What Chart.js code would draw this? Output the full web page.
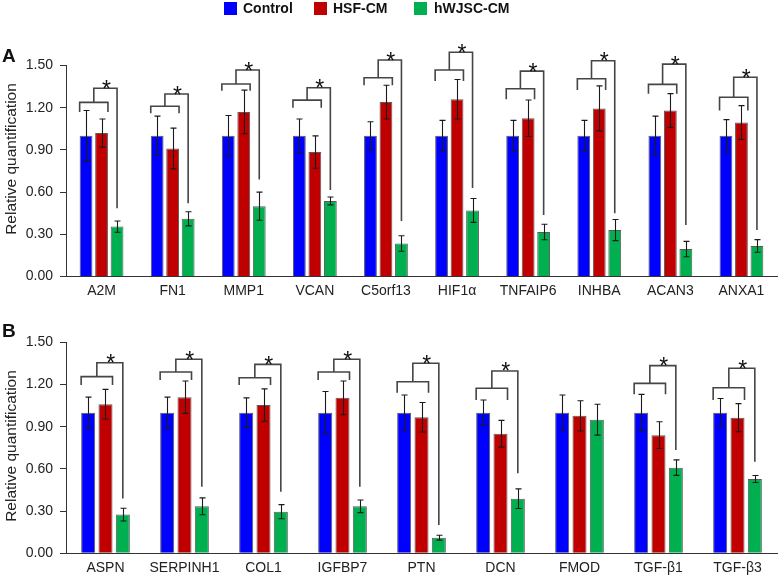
<!DOCTYPE html>
<html>
<head>
<meta charset="utf-8">
<script src="https://cdn.jsdelivr.net/npm/chart.js@4"></script>
<style>
  html, body { margin:0; padding:0; background:#fff; }
  body { width:778px; height:576px; position:relative; overflow:hidden; font-family:"Liberation Sans", Arial, sans-serif; }
  #cA { position:absolute; left:0; top:0; }
  #cB { position:absolute; left:0; top:305px; }
  .leg-sq { position:absolute; width:13px; height:13px; top:1.5px; }
  .leg-tx { position:absolute; top:1.4px; font-weight:bold; font-size:14px; line-height:14px; color:#111; white-space:nowrap; }
  .ytitle { position:absolute; width:180px; height:20px; line-height:20px; text-align:center; font-size:15.5px; color:#222; transform:rotate(-90deg); white-space:nowrap; }
  .panel { position:absolute; left:2px; font-weight:bold; font-size:19px; line-height:19px; color:#111; }
</style>
</head>
<body>
<canvas id="cA" width="778" height="305"></canvas>
<canvas id="cB" width="778" height="271"></canvas>

<div class="leg-sq" style="left:224px;background:#0000ff"></div>
<div class="leg-tx" style="left:243px">Control</div>
<div class="leg-sq" style="left:314px;background:#c00000"></div>
<div class="leg-tx" style="left:333px">HSF-CM</div>
<div class="leg-sq" style="left:414px;background:#00b050"></div>
<div class="leg-tx" style="left:434px">hWJSC-CM</div>

<div class="panel" style="top:45.5px">A</div>
<div class="panel" style="top:320.5px">B</div>
<div class="ytitle" style="left:-79.5px;top:148.5px">Relative quantification</div>
<div class="ytitle" style="left:-79.5px;top:435.5px">Relative quantification</div>

<script>
// ---------- Panel A data ----------
const catsA = ['A2M','FN1','MMP1','VCAN','C5orf13','HIF1α','TNFAIP6','INHBA','ACAN3','ANXA1'];
const ctrlA = [1,1,1,1,1,1,1,1,1,1];
const ctrlErrA = [0.18,0.14,0.145,0.12,0.10,0.11,0.11,0.11,0.14,0.115];
const hsfA = [1.02,0.91,1.17,0.885,1.24,1.26,1.125,1.195,1.18,1.095];
const hsfErrA = [0.10,0.145,0.155,0.115,0.12,0.14,0.13,0.16,0.12,0.12];
const wjA = [0.355,0.41,0.50,0.537,0.235,0.47,0.316,0.33,0.195,0.217];
const wjErrA = [0.04,0.05,0.10,0.028,0.055,0.085,0.055,0.075,0.055,0.045];
// significance brackets (data units)
const lowA  = [1.238,1.21,1.368,1.254,1.413,1.468,1.335,1.406,1.366,1.274];
const legA  = [1.17,1.16,1.32,1.20,1.36,1.39,1.26,1.326,1.30,1.18];
const highA = [1.338,1.297,1.468,1.342,1.539,1.594,1.46,1.534,1.51,1.416];
const dropA = [0.485,0.52,0.69,0.615,0.394,0.63,0.437,0.449,0.366,0.33];

// ---------- Panel B data ----------
const catsB = ['ASPN','SERPINH1','COL1','IGFBP7','PTN','DCN','FMOD','TGF-β1','TGF-β3'];
const ctrlB = [1,1,1,1,1,1,1,1,1];
const ctrlErrB = [0.11,0.11,0.105,0.15,0.125,0.09,0.125,0.13,0.10];
const hsfB = [1.06,1.11,1.054,1.105,0.967,0.85,0.977,0.84,0.964];
const hsfErrB = [0.105,0.115,0.115,0.12,0.105,0.095,0.108,0.095,0.10];
const wjB = [0.275,0.334,0.296,0.334,0.111,0.388,0.95,0.609,0.528];
const wjErrB = [0.045,0.06,0.05,0.045,0.017,0.07,0.11,0.055,0.025];
const lowB  = [1.256,1.289,1.248,1.289,1.22,1.173,null,1.208,1.177];
const legB  = [1.196,1.232,1.196,1.232,1.142,1.09,null,1.13,1.09];
const highB = [1.355,1.379,1.343,1.379,1.351,1.296,null,1.334,1.315];
const dropB = [0.39,0.473,0.438,0.473,0.201,0.569,null,0.734,0.651];

const yTicks = [0, 0.3, 0.6, 0.9, 1.2, 1.5];

const COLORS = ['#0000ff','#c00000','#00b050'];
const NAMES = ['Control','HSF-CM','hWJSC-CM'];
const FONT = '"Liberation Sans", Arial, sans-serif';

const annot = {
  id: 'annot',
  afterDatasetsDraw(chart, args, opts) {
    const ctx = chart.ctx, ys = chart.scales.y;
    ctx.save();
    // error bars
    ctx.strokeStyle = '#1a1a1a';
    ctx.lineWidth = 1.1;
    chart.data.datasets.forEach((ds, di) => {
      const meta = chart.getDatasetMeta(di);
      meta.data.forEach((bar, i) => {
        const v = ds.data[i], e = ds.err[i];
        const x = Math.round(bar.x) + 0.5;
        const y1 = ys.getPixelForValue(v + e), y2 = ys.getPixelForValue(v - e);
        ctx.beginPath();
        ctx.moveTo(x, y1); ctx.lineTo(x, y2);
        ctx.moveTo(x - 3, y1); ctx.lineTo(x + 3, y1);
        ctx.moveTo(x - 3, y2); ctx.lineTo(x + 3, y2);
        ctx.stroke();
      });
    });
    // brackets
    const m0 = chart.getDatasetMeta(0).data, m1 = chart.getDatasetMeta(1).data, m2 = chart.getDatasetMeta(2).data;
    ctx.strokeStyle = '#454545';
    ctx.lineWidth = 1.6;
    ctx.fillStyle = '#111';
    ctx.font = '23px ' + FONT;
    ctx.textAlign = 'center';
    ctx.textBaseline = 'alphabetic';
    opts.low.forEach((lo, i) => {
      if (lo == null) return;
      const xl = m0[i].x - m0[i].width / 2;
      const xr = m1[i].x + m1[i].width / 2;
      const xs = (xl + xr) / 2;
      const xg = m2[i].x;
      const yLow = ys.getPixelForValue(lo), yLeg = ys.getPixelForValue(opts.leg[i]);
      const yHigh = ys.getPixelForValue(opts.high[i]), yDrop = ys.getPixelForValue(opts.drop[i]);
      ctx.beginPath();
      ctx.moveTo(xl, yLeg); ctx.lineTo(xl, yLow); ctx.lineTo(xr, yLow); ctx.lineTo(xr, yLeg);
      ctx.moveTo(xs, yLow); ctx.lineTo(xs, yHigh); ctx.lineTo(xg, yHigh); ctx.lineTo(xg, yDrop);
      ctx.stroke();
      ctx.fillText('*', (xs + xg) / 2 + 1, yHigh + 8.5);
    });
    ctx.restore();
  }
};

function makeChart(id, cats, vals, errs, brackets, padTop, xHeight, catPct, barPct) {
  return new Chart(document.getElementById(id), {
    type: 'bar',
    data: {
      labels: cats,
      datasets: vals.map((v, k) => ({
        label: NAMES[k],
        data: v,
        err: errs[k],
        backgroundColor: COLORS[k],
        borderColor: 'rgba(35,35,35,0.75)',
        borderWidth: 1,
        categoryPercentage: catPct,
        barPercentage: barPct
      }))
    },
    options: {
      responsive: false,
      animation: false,
      events: [],
      layout: { padding: { top: padTop, left: 0, right: 1, bottom: 0 } },
      plugins: { legend: { display: false }, tooltip: { enabled: false }, annot: brackets },
      scales: {
        x: {
          grid: { display: false, drawTicks: false },
          border: { display: true, color: '#333', width: 1 },
          ticks: { font: { size: 14, family: FONT }, color: '#222', padding: 6, maxRotation: 0, autoSkip: false },
          afterFit(s) { s.height = xHeight; }
        },
        y: {
          min: 0, max: 1.5,
          afterBuildTicks(s) { s.ticks = yTicks.map(v => ({ value: v })); },
          ticks: { font: { size: 14, family: FONT }, color: '#222', padding: 7, callback: v => Number(v).toFixed(2) },
          grid: { display: true, drawOnChartArea: false, drawTicks: true, tickLength: 6, color: '#333' },
          border: { display: true, color: '#333', width: 1 },
          afterFit(s) { s.width = 66; }
        }
      }
    },
    plugins: [annot]
  });
}

makeChart('cA', catsA, [ctrlA, hsfA, wjA], [ctrlErrA, hsfErrA, wjErrA],
  { low: lowA, leg: legA, high: highA, drop: dropA }, 65.5, 28.5, 0.654, 0.826);
makeChart('cB', catsB, [ctrlB, hsfB, wjB], [ctrlErrB, hsfErrB, wjErrB],
  { low: lowB, leg: legB, high: highB, drop: dropB }, 37.3, 22.7, 0.658, 0.81);
</script>
</body>
</html>
